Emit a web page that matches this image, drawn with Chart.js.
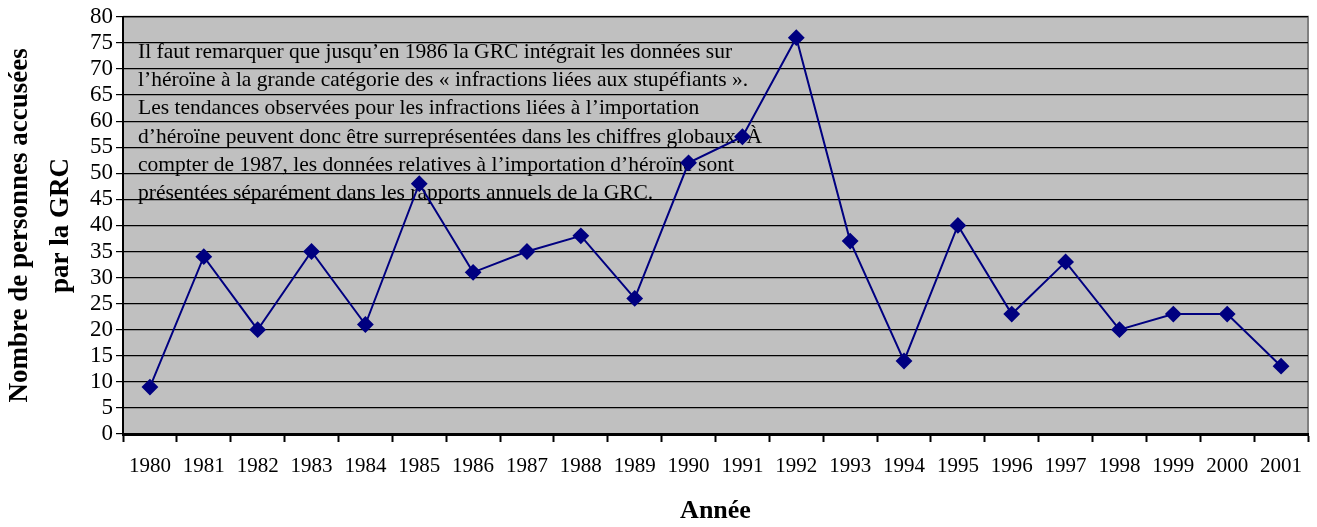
<!DOCTYPE html>
<html>
<head>
<meta charset="utf-8">
<script src="https://cdn.jsdelivr.net/npm/chart.js@4.4.0/dist/chart.umd.min.js"></script>
<style>
  html, body { margin: 0; padding: 0; background: #fff; }
  #wrap { width: 1317px; height: 527px; }
</style>
</head>
<body>
<div id="wrap"><canvas id="chart"></canvas></div>
<script>
const years = ['1980','1981','1982','1983','1984','1985','1986','1987','1988','1989','1990',
  '1991','1992','1993','1994','1995','1996','1997','1998','1999','2000','2001'];
const accused = [9, 34, 20, 35, 21, 48, 31, 35, 38, 26, 52, 57, 76, 37, 14, 40, 23, 33, 20, 23, 23, 13];

const note = [
  'Il faut remarquer que jusqu\u2019en 1986 la GRC intégrait les données sur',
  'l\u2019héroïne à la grande catégorie des « infractions liées aux stupéfiants ».',
  'Les tendances observées pour les infractions liées à l\u2019importation',
  'd\u2019héroïne peuvent donc être surreprésentées dans les chiffres globaux. À',
  'compter de 1987, les données relatives à l\u2019importation d\u2019héroïne sont',
  'présentées séparément dans les rapports annuels de la GRC.'
];

const SERIF = "'Liberation Serif', 'Times New Roman', serif";

// gray plot background + gray top/right border
const plotBg = {
  id: 'plotBg',
  beforeDraw(chart) {
    const { ctx, chartArea: a } = chart;
    ctx.save();
    ctx.fillStyle = '#c0c0c0';
    ctx.fillRect(a.left, a.top, a.right - a.left, a.bottom - a.top);
    ctx.strokeStyle = '#808080';
    ctx.lineWidth = 2;
    ctx.beginPath();
    ctx.moveTo(a.left, a.top);
    ctx.lineTo(a.right, a.top);
    ctx.lineTo(a.right, a.bottom);
    ctx.stroke();
    ctx.restore();
  }
};

// the note text, drawn under the line
const noteText = {
  id: 'noteText',
  beforeDatasetsDraw(chart) {
    const { ctx } = chart;
    ctx.save();
    ctx.fillStyle = '#000';
    ctx.font = '21.5px ' + SERIF;
    ctx.textBaseline = 'middle';
    note.forEach((line, i) => ctx.fillText(line, 138, 52 + i * 28.3));
    ctx.restore();
  }
};

new Chart(document.getElementById('chart'), {
  type: 'line',
  data: {
    labels: years,
    datasets: [{
      data: accused,
      borderColor: '#000080',
      backgroundColor: '#000080',
      borderWidth: 2,
      pointStyle: 'rectRot',
      pointRadius: 7,
      pointHoverRadius: 7,
      tension: 0
    }]
  },
  options: {
    responsive: true,
    maintainAspectRatio: false,
    animation: false,
    layout: { padding: { top: 15, right: 9, left: 0, bottom: 0 } },
    plugins: { legend: { display: false }, tooltip: { enabled: false } },
    scales: {
      x: {
        offset: true,
        afterFit: s => { s.height = 93; },
        grid: {
          offset: true,
          drawOnChartArea: false,
          drawTicks: true,
          tickLength: 8,
          tickWidth: 2,
          tickColor: '#000'
        },
        border: { color: '#000', width: 3 },
        ticks: {
          color: '#000',
          font: { family: SERIF, size: 21 },
          padding: 12,
          maxRotation: 0,
          autoSkip: false
        },
        title: {
          display: true,
          text: 'Année',
          color: '#000',
          font: { family: SERIF, size: 26, weight: 'bold' },
          padding: { top: 10, bottom: 0 }
        }
      },
      y: {
        min: 0,
        max: 80,
        afterFit: s => { s.width = 123; },
        grid: {
          color: '#000',
          lineWidth: 1.2,
          drawTicks: true,
          tickLength: 7,
          tickColor: '#000'
        },
        border: { color: '#000', width: 2 },
        ticks: {
          stepSize: 5,
          autoSkip: false,
          color: '#000',
          font: { family: SERIF, size: 23 },
          padding: 3
        },
        title: {
          display: true,
          text: ['Nombre de personnes accusées', 'par la GRC'],
          color: '#000',
          font: { family: SERIF, size: 27, weight: 'bold', lineHeight: 1.5 },
          padding: { top: 0, bottom: 0 }
        }
      }
    }
  },
  plugins: [plotBg, noteText]
});
</script>
</body>
</html>
